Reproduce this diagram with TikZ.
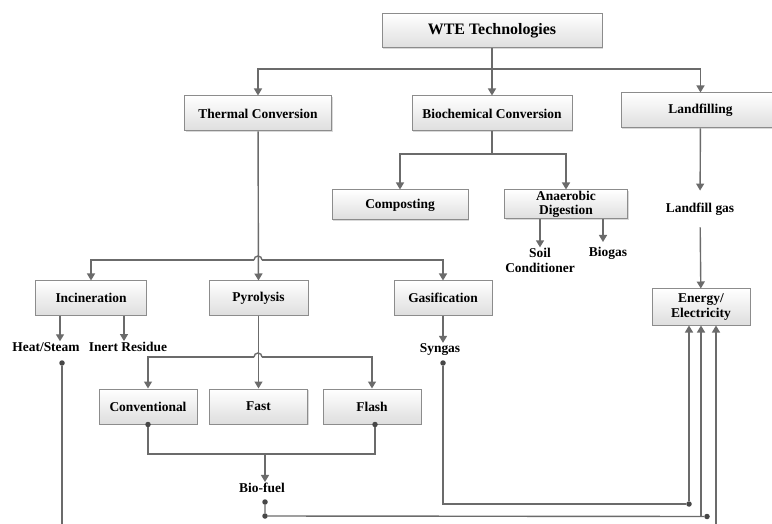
\documentclass[tikz,border=0pt]{standalone}
\usepackage{fontspec}
\setmainfont{Liberation Serif}
\usetikzlibrary{arrows.meta,shadows}

\tikzstyle{box} = [draw=black!45, line width=1bp, top color=white, bottom color=black!13,
    drop shadow={shadow xshift=1.2bp, shadow yshift=-1.2bp, opacity=0.3},
    minimum width=98bp, minimum height=35bp, inner sep=1bp, align=center,
    font=\fontsize{13.5}{14.5}\selectfont\bfseries]
\tikzstyle{product} = [inner sep=1bp, align=center, font=\fontsize{13.5}{14.5}\selectfont\bfseries]
\tikzstyle{wire} = [draw=black!58, line width=1.4bp]
\tikzstyle{link} = [wire, -{Triangle[width=8bp,length=7bp]}]
\tikzstyle{joint} = [circle, fill=black!72, inner sep=0pt, minimum size=5.5bp]

\begin{document}
\begin{tikzpicture}[x=1bp, y=-1bp]
\useasboundingbox (0,0) rectangle (772,524);
\clip (0,0) rectangle (772,524);

\node[box, minimum width=220bp, minimum height=34bp, font=\fontsize{16}{18}\selectfont\bfseries] (wte) at (492,31) {WTE Technologies};
\node[box, minimum width=147bp] (thermal) at (258,113.5) {Thermal Conversion};
\node[box, minimum width=160bp] (biochem) at (492,113.5) {Biochemical Conversion};
\node[box, minimum width=159bp] (landfill) at (700.5,110.5) {Landfilling};
\node[box, minimum width=136bp, minimum height=30bp] (compost) at (400,205) {Composting};
\node[box, minimum width=123bp, minimum height=29bp] (anaer) at (566,204.5) {Anaerobic\\Digestion};
\node[product] (soil) at (540,260.5) {Soil\\Conditioner};
\node[product] (biogas) at (608,253) {Biogas};
\node[product, inner ysep=12bp] (lgas) at (700,209) {Landfill gas};
\node[box, minimum height=36bp] (energy) at (701,307) {Energy/\\Electricity};

\node[box, minimum width=110bp, minimum height=34bp] (incin) at (91,298) {Incineration};
\node[box, minimum width=99bp, minimum height=34bp] (pyro) at (258.5,298) {Pyrolysis};
\node[box, minimum height=34bp] (gasif) at (443,298) {Gasification};
\node[product] (heat) at (46,347) {Heat/Steam};
\node[product] (inert) at (128,347) {Inert Residue};
\node[product] (syngas) at (440,350) {Syngas};

\node[box] (conv) at (148,406.5) {Conventional};
\node[box] (fast) at (258.5,406.5) {Fast};
\node[box] (flash) at (372,406.5) {Flash};
\node[product] (biofuel) at (262,488) {Bio-fuel};

\coordinate (wj) at (492,69);
\coordinate (bj) at (492,154);
\coordinate (tj) at (258,260);
\coordinate (pj) at (258,357);
\coordinate (fj) at (265,454);

\draw[link] (wte) -- (biochem);
\draw[link] (wj) -| (thermal);
\draw[link] (wj) -| (landfill);

\draw[wire] (biochem) -- (bj);
\draw[link] (bj) -| (compost);
\draw[link] (bj) -| (anaer);
\draw[link] (anaer.south -| soil) -- (soil.north);
\draw[link] (603,0 |- anaer.south) -- (603,242);

\draw[link] (landfill) -- (lgas);
\draw[link] (lgas) -- (energy);

\draw[link] (thermal) -- (pyro);
\draw[link] ([xshift=-4bp]tj) -| (incin);
\draw[link] ([xshift=4bp]tj) -| (gasif);
\draw[wire] ([xshift=-4bp]tj) arc[start angle=180, end angle=0, radius=4bp];

\draw[link] (60,0 |- incin.south) -- (60,0 |- heat.north);
\draw[link] (124,0 |- incin.south) -- (124,0 |- inert.north);
\draw[link] (gasif.south) -- (gasif.south |- syngas.north);

\draw[link] (pyro) -- (fast);
\draw[link] ([xshift=-4bp]pj) -| (conv);
\draw[link] ([xshift=4bp]pj) -| (flash);
\draw[wire] ([xshift=-4bp]pj) arc[start angle=180, end angle=0, radius=4bp];

\node[joint] (cvdot) at (conv.south) {};
\node[joint] (fldot) at ([xshift=3bp]flash.south) {};
\draw[wire] (cvdot) |- (fj) -| (fldot);
\draw[link] (fj) -- (fj |- biofuel.north);

\node[joint] (hsdot) at (62,363) {};
\node[joint] (sgdot) at (443,363) {};
\node[joint] (sgturn) at (689,504) {};
\node[joint] (bfdot) at (265,502) {};
\node[joint] (bfturn) at (265,516) {};
\node[joint] (bfend) at (707,516.5) {};
\coordinate (bfup) at (701,516);
\coordinate (hsturn) at (716,545);

\draw[wire] (sgdot) |- (sgturn);
\draw[link] (sgturn) -- (sgturn |- energy.south);
\draw[wire] (bfdot) -- (bfturn) -- (bfend);
\draw[link] (bfup) -- (bfup |- energy.south);
\draw[link] (hsdot) |- (hsturn) -- (hsturn |- energy.south);
\end{tikzpicture}
\end{document}
